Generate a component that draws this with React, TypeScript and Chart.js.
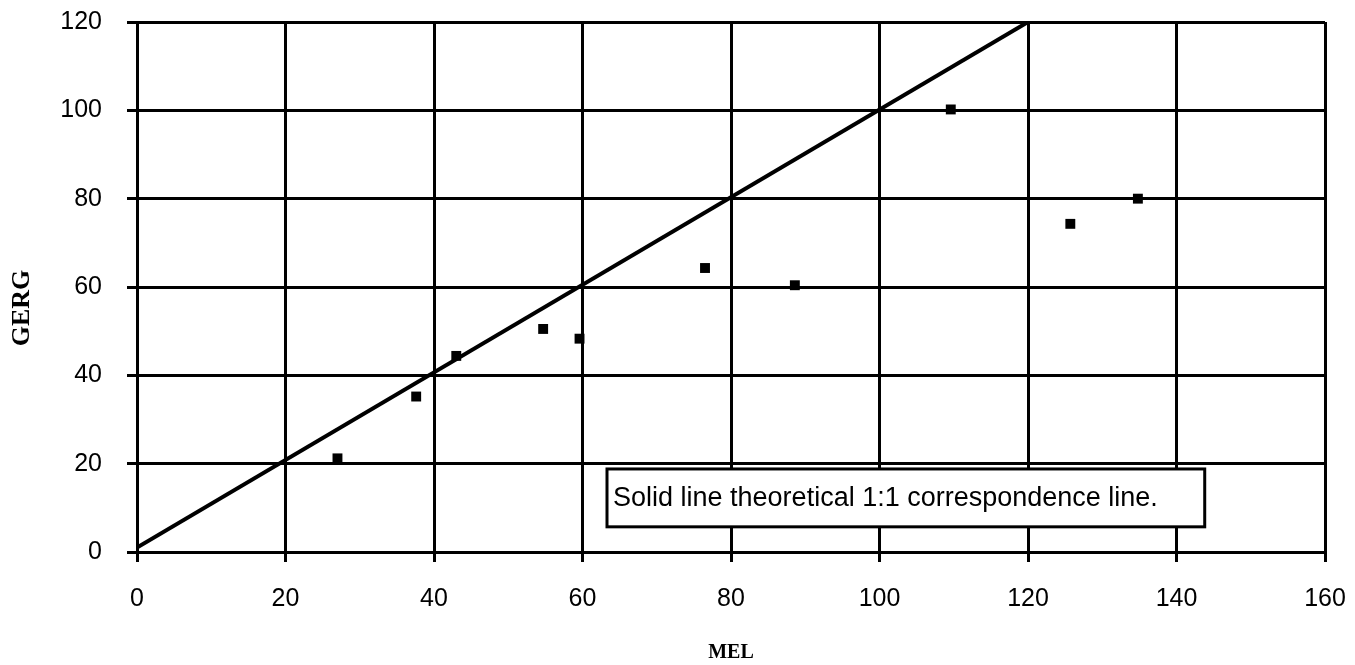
import React, { useEffect, useRef } from "react";
import { Chart, registerables } from "chart.js";

Chart.register(...registerables);

// ---- data ----
const melValues = [27, 37.6, 43, 54.7, 59.6, 76.5, 88.6, 109.6, 125.7, 134.8];
const gergValues = [21.2, 35.2, 44.4, 50.5, 48.3, 64.3, 60.4, 100.2, 74.3, 80];
const refLineX = [0, 120];
const refLineY = [1, 120];
const xTicks = [0, 20, 40, 60, 80, 100, 120, 140, 160];
const yTicks = [0, 20, 40, 60, 80, 100, 120];
const xTitle = "MEL";
const yTitle = "GERG";
const noteText = "Solid line theoretical 1:1 correspondence line.";
// note box corners in data units
const noteX = [63.3, 143.8];
const noteY = [18.8, 5.7];

const SANS = "'Liberation Sans', Arial, Helvetica, sans-serif";
const SERIF = "'Liberation Serif', 'Times New Roman', serif";

const overlayPlugin = {
  id: "overlay",
  afterDatasetsDraw(chart: any) {
    const ctx = chart.ctx;
    const xs = chart.scales.x;
    const ys = chart.scales.y;
    const l = xs.getPixelForValue(noteX[0]);
    const r = xs.getPixelForValue(noteX[1]);
    const t = ys.getPixelForValue(noteY[0]);
    const b = ys.getPixelForValue(noteY[1]);
    ctx.save();
    ctx.fillStyle = "#ffffff";
    ctx.fillRect(l, t, r - l, b - t);
    ctx.strokeStyle = "#000000";
    ctx.lineWidth = 3;
    ctx.strokeRect(l, t, r - l, b - t);
    ctx.fillStyle = "#000000";
    ctx.font = `27px ${SANS}`;
    ctx.textAlign = "left";
    ctx.textBaseline = "alphabetic";
    ctx.fillText(noteText, l + 6, t + (b - t) * 0.64);
    ctx.restore();
  },
  afterDraw(chart: any) {
    const ctx = chart.ctx;
    const ys = chart.scales.y;
    ctx.save();
    ctx.translate(22, (ys.top + ys.bottom) / 2 + 21);
    ctx.rotate(-Math.PI / 2);
    ctx.fillStyle = "#000000";
    ctx.font = `bold 26px ${SERIF}`;
    ctx.textAlign = "center";
    ctx.textBaseline = "middle";
    ctx.fillText(yTitle, 0, 0);
    ctx.restore();
  },
};

export default function App() {
  const ref = useRef<HTMLCanvasElement | null>(null);
  useEffect(() => {
    if (!ref.current) return;
    const scatterData = melValues.map((x, i) => ({ x, y: gergValues[i] }));
    const lineData = refLineX.map((x, i) => ({ x, y: refLineY[i] }));
    const chart = new Chart(ref.current, {
      type: "scatter",
      data: {
        datasets: [
          {
            type: "line",
            label: "1:1",
            data: lineData,
            borderColor: "#000000",
            borderWidth: 4,
            pointRadius: 0,
            showLine: true,
            fill: false,
          } as any,
          {
            label: "GERG vs MEL",
            data: scatterData,
            pointStyle: "rect",
            pointRadius: 7,
            backgroundColor: "#000000",
            borderColor: "#000000",
            borderWidth: 0,
          },
        ],
      },
      options: {
        animation: false,
        responsive: false,
        layout: { padding: { left: 0, top: 22, right: 30, bottom: 0 } },
        plugins: {
          legend: { display: false },
          tooltip: { enabled: false },
          title: { display: false },
        },
        scales: {
          x: {
            type: "linear",
            min: xTicks[0],
            max: xTicks[xTicks.length - 1],
            afterFit: (s: any) => {
              s.height = 113;
              s.paddingLeft = 0;
              s.paddingRight = 0;
            },
            ticks: {
              stepSize: xTicks[1] - xTicks[0],
              color: "#000000",
              font: { family: SANS, size: 25 },
              padding: 22,
              maxRotation: 0,
            },
            grid: {
              color: "#000000",
              lineWidth: 3,
              drawTicks: true,
              tickLength: 10,
              tickColor: "#000000",
              tickWidth: 3,
            },
            border: { color: "#000000", width: 3 },
            title: {
              display: true,
              text: xTitle,
              color: "#000000",
              font: { family: SERIF, size: 20, weight: "bold" },
              padding: { top: 0, bottom: 0 },
            },
          },
          y: {
            type: "linear",
            min: yTicks[0],
            max: yTicks[yTicks.length - 1],
            afterFit: (s: any) => {
              s.width = 137;
              s.paddingTop = 0;
              s.paddingBottom = 0;
            },
            ticks: {
              stepSize: yTicks[1] - yTicks[0],
              color: "#000000",
              font: { family: SANS, size: 25 },
              padding: 25,
            },
            grid: {
              color: "#000000",
              lineWidth: 3,
              drawTicks: true,
              tickLength: 10,
              tickColor: "#000000",
              tickWidth: 3,
            },
            border: { color: "#000000", width: 3 },
          },
        },
      },
      plugins: [overlayPlugin],
    });
    return () => chart.destroy();
  }, []);
  return (
    <div style={{ position: "absolute", left: 0, top: 0, width: 1355, height: 665, background: "#fff" }}>
      <canvas ref={ref} width={1355} height={665} style={{ width: 1355, height: 665, display: "block" }} />
    </div>
  );
}
